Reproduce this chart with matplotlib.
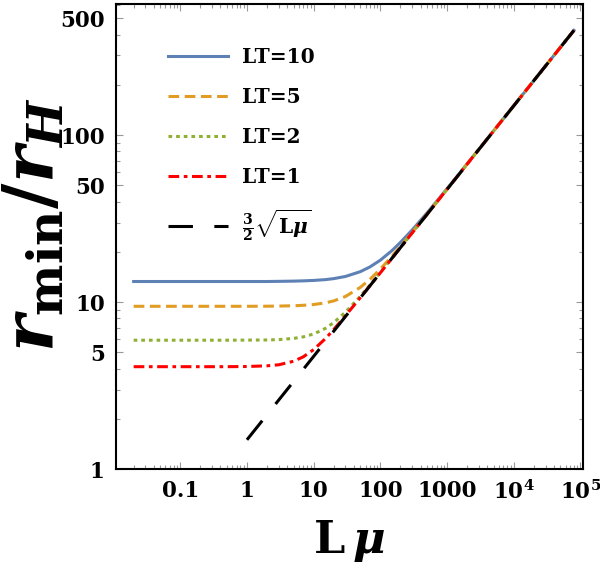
import matplotlib
matplotlib.use('Agg')
import matplotlib.pyplot as plt
from matplotlib.ticker import LogLocator, NullFormatter

# values (log-log axes)
lmu = [0.02, 0.1, 0.5, 1, 2, 3, 5, 7, 10, 15, 20, 30, 50, 70, 100,
       150, 200, 300, 500, 1000, 3000, 1e4, 3e4, 8e4]
r_lt10 = [13.3, 13.3, 13.3, 13.3, 13.3, 13.33, 13.37, 13.42, 13.5, 13.65, 13.84,
          14.26, 15.23, 16.27, 17.85, 20.4, 22.8, 27.07, 34.2, 47.8, 82.3, 150, 259.8, 424.3]
r_lt5 = [9.45, 9.45, 9.45, 9.45, 9.46, 9.48, 9.52, 9.58, 9.68, 9.91, 10.18,
         10.82, 12.26, 13.72, 15.79, 18.87, 21.56, 26.18, 33.65, 47.45, 82.2, 150, 259.8, 424.3]
r_lt2 = [5.92, 5.92, 5.92, 5.93, 5.94, 5.97, 6.07, 6.2, 6.45, 6.97, 7.55,
         8.72, 10.85, 12.69, 15.09, 18.42, 21.25, 26.0, 33.54, 47.43, 82.2, 150, 259.8, 424.3]
r_lt1 = [4.11, 4.11, 4.11, 4.12, 4.16, 4.22, 4.43, 4.71, 5.2, 6.05, 6.86,
         8.3, 10.64, 12.56, 15.0, 18.37, 21.21, 25.98, 33.54, 47.43, 82.2, 150, 259.8, 424.3]
asym_x = [1, 10, 100, 1000, 1e4, 8e4]
asym_y = [1.5, 4.74, 15.0, 47.4, 150.0, 424.3]

labels = ['LT=10', 'LT=5', 'LT=2', 'LT=1', r'$\frac{3}{2}\sqrt{\mathrm{L}\mu}$']
xtick_vals = [0.1, 1, 10, 100, 1000, 1e4, 1e5]
xtick_labels = ['0.1', '1', '10', '100', '1000', r'$10^4$', r'$10^5$']
ytick_vals = [1, 5, 10, 50, 100, 500]
ytick_labels = ['1', '5', '10', '50', '100', '500']

plt.rcParams['font.family'] = ['DejaVu Serif']
plt.rcParams['font.weight'] = 'bold'
plt.rcParams['mathtext.fontset'] = 'custom'
plt.rcParams['mathtext.rm'] = 'DejaVu Serif:bold'
plt.rcParams['mathtext.bf'] = 'DejaVu Serif:bold'
plt.rcParams['mathtext.it'] = 'DejaVu Serif:bold:italic'

fig = plt.figure(figsize=(6, 5.75), dpi=100)
ax = fig.add_axes([0.193, 0.184, 0.779, 0.809])

ax.plot(lmu, r_lt10, color='#5E81B5', lw=2.2, ls='-', label=labels[0])
ax.plot(lmu, r_lt5, color='#E19C24', lw=2.2, ls=(0, (3.5, 1.8)), label=labels[1])
ax.plot(lmu, r_lt2, color='#8FB032', lw=2.2, ls=(0, (1.2, 1.3)), label=labels[2])
ax.plot(lmu, r_lt1, color='#FF0000', lw=2.2, ls=(0, (3.5, 1.5, 1.2, 1.5)), label=labels[3])
ax.plot(asym_x, asym_y, color='black', lw=2.2, ls=(0, (8, 7)), label=labels[4], zorder=5)

ax.set_xscale('log')
ax.set_yscale('log')
ax.set_xlim(0.0108, 1.1e5)
ax.set_ylim(1, 610)

ax.set_xticks(xtick_vals)
ax.set_xticklabels(xtick_labels)
ax.set_yticks(ytick_vals)
ax.set_yticklabels(ytick_labels)
ax.xaxis.set_minor_locator(LogLocator(base=10, subs=range(2, 10), numticks=20))
ax.yaxis.set_minor_locator(LogLocator(base=10, subs=range(2, 10), numticks=20))
ax.xaxis.set_minor_formatter(NullFormatter())
ax.yaxis.set_minor_formatter(NullFormatter())
ax.tick_params(which='both', direction='in', top=True, right=True, labelsize=15.5, width=0.8, color='#999999')
ax.tick_params(which='major', length=5, pad=8)
ax.tick_params(which='minor', length=3)
for s in ax.spines.values():
    s.set_linewidth(1.5)

ax.set_xlabel(r'$\mathrm{L}\,\mu$', fontsize=32, labelpad=10)
ax.set_ylabel(r'$r_{\mathrm{min}}/r_H$', fontsize=50)
ax.yaxis.set_label_coords(-0.105, 0.525)

ax.legend(loc='upper left', bbox_to_anchor=(0.09, 0.93), frameon=False, fontsize=14.5,
          handlelength=3.0, handletextpad=0.7, labelspacing=1.0, borderpad=0)

fig.savefig('out.png', dpi=100)
